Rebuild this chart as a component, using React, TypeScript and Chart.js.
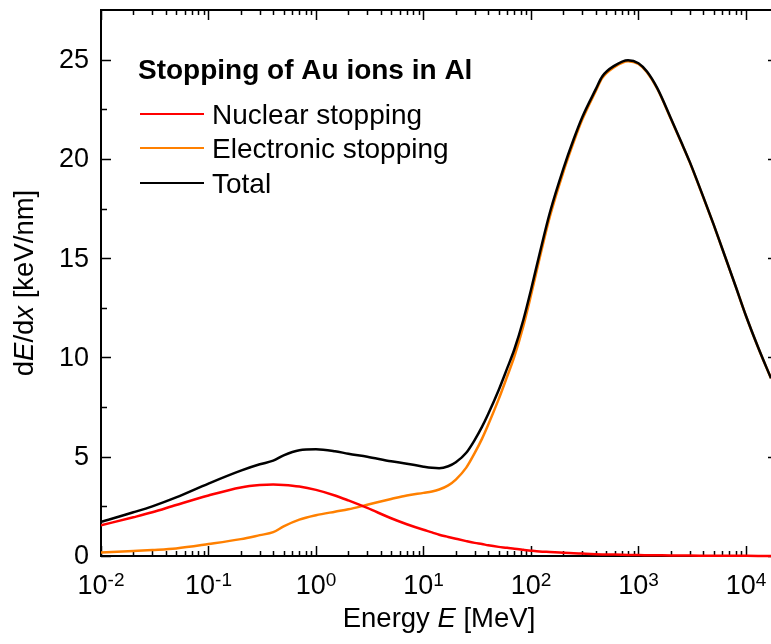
import { useEffect, useRef } from "react";
import { Chart, registerables } from "chart.js";

Chart.register(...registerables);

// ---- Data ----
const energies = [
  0.01, 0.02, 0.03, 0.05, 0.1, 0.2, 0.3, 0.4, 0.5, 0.7, 1, 1.5, 2, 3, 5, 7, 10, 12, 14, 17, 20,
  25, 30, 35, 40, 50, 60, 70, 85, 100, 120, 150, 200, 250, 300, 400, 460, 600, 800, 1000, 1200,
  1500, 2000, 2500, 3000, 4000, 5000, 6000, 8000, 10000, 13000, 17100,
];
const nuclearStopping = [
  1.55, 1.95, 2.2, 2.57, 3.05, 3.45, 3.57, 3.6, 3.58, 3.5, 3.33, 3.05, 2.8, 2.42, 1.9, 1.6,
  1.32, 1.19, 1.07, 0.96, 0.87, 0.75, 0.66, 0.6, 0.54, 0.46, 0.41, 0.36, 0.31, 0.27, 0.23, 0.2,
  0.16, 0.14, 0.12, 0.09, 0.08, 0.07, 0.055, 0.045, 0.04, 0.035, 0.028, 0.024, 0.02, 0.016,
  0.014, 0.012, 0.01, 0.008, 0.006, 0.005,
];
const electronicStopping = [
  0.17, 0.25, 0.3, 0.38, 0.6, 0.85, 1.05, 1.2, 1.49, 1.83, 2.05, 2.23, 2.35, 2.58, 2.87, 3.05,
  3.18, 3.25, 3.35, 3.56, 3.85, 4.45, 5.19, 5.9, 6.61, 7.89, 9.04, 10.04, 11.59, 13.13, 14.97,
  17.1, 19.34, 20.86, 21.98, 23.41, 24.07, 24.63, 24.92, 24.78, 24.36, 23.52, 22.02, 20.83,
  19.83, 18.08, 16.69, 15.49, 13.59, 12.09, 10.49, 8.95,
];
const totalStopping = [
  1.72, 2.2, 2.5, 2.95, 3.65, 4.3, 4.62, 4.8, 5.07, 5.33, 5.38, 5.28, 5.15, 5.0, 4.77, 4.65,
  4.5, 4.44, 4.42, 4.52, 4.72, 5.2, 5.85, 6.5, 7.15, 8.35, 9.45, 10.4, 11.9, 13.4, 15.2, 17.3,
  19.5, 21.0, 22.1, 23.5, 24.15, 24.7, 24.97, 24.82, 24.4, 23.55, 22.05, 20.85, 19.85, 18.1,
  16.7, 15.5, 13.6, 12.1, 10.5, 8.95,
];

const seriesLabels = ["Nuclear stopping", "Electronic stopping", "Total"];
const seriesColors = ["#ff0000", "#ff8000", "#000000"];
const legendTitle = "Stopping of Au ions in Al";

const xDecadeExponents = [-2, -1, 0, 1, 2, 3, 4];
const yMajorTicks = [0, 5, 10, 15, 20, 25];
const yMinorTicks = [2.5, 7.5, 12.5, 17.5, 22.5];

const X_MIN = 0.01;
const X_MAX = 17100;
const Y_MIN = 0;
const Y_MAX = 27.5;

const FONT = "'Liberation Sans', Arial, Helvetica, sans-serif";
const TICK_FONT_SIZE = 27;
const SUP_FONT_SIZE = 19;
const TITLE_FONT_SIZE = 27.5;
const LEGEND_FONT_SIZE = 28;

type Piece = { text: string; italic?: boolean };

function drawPieces(ctx: CanvasRenderingContext2D, pieces: Piece[], size: number, cx: number, baseline: number) {
  const widths = pieces.map((p) => {
    ctx.font = `${p.italic ? "italic " : ""}${size}px ${FONT}`;
    return ctx.measureText(p.text).width;
  });
  const total = widths.reduce((a, b) => a + b, 0);
  let x = cx - total / 2;
  ctx.textAlign = "left";
  ctx.textBaseline = "alphabetic";
  pieces.forEach((p, i) => {
    ctx.font = `${p.italic ? "italic " : ""}${size}px ${FONT}`;
    ctx.fillText(p.text, x, baseline);
    x += widths[i];
  });
}

const axesPlugin = {
  id: "customAxes",
  beforeDatasetsDraw(chart: any) {
    const { ctx, chartArea: a, scales } = chart;
    const xs = scales.x;
    const ys = scales.y;
    ctx.save();
    ctx.strokeStyle = "#000";
    ctx.lineWidth = 2;
    ctx.beginPath();
    ctx.moveTo(a.left, a.top);
    ctx.lineTo(a.right, a.top);
    ctx.moveTo(a.left, a.top - 1);
    ctx.lineTo(a.left, a.bottom + 1);
    ctx.moveTo(a.left, a.bottom);
    ctx.lineTo(a.right, a.bottom);
    ctx.stroke();

    ctx.lineWidth = 1.5;
    ctx.beginPath();
    const MAJ = 10;
    const MIN = 5;
    // x ticks (bottom and top, inward)
    for (const e of xDecadeExponents) {
      for (let m = 1; m <= 9; m++) {
        const v = m * Math.pow(10, e);
        if (v < X_MIN || v > X_MAX) continue;
        const px = Math.round(xs.getPixelForValue(v)) + 0.5;
        const len = m === 1 ? MAJ : MIN;
        ctx.moveTo(px, a.bottom);
        ctx.lineTo(px, a.bottom - len);
        ctx.moveTo(px, a.top);
        ctx.lineTo(px, a.top + len);
      }
    }
    // y ticks (left, inward); right axis lies just outside the canvas,
    // so only the tips of its major ticks show
    yMajorTicks.forEach((v) => {
      const py = Math.round(ys.getPixelForValue(v)) + 0.5;
      ctx.moveTo(a.left, py);
      ctx.lineTo(a.left + MAJ, py);
      ctx.moveTo(a.right, py);
      ctx.lineTo(a.right - 3, py);
    });
    yMinorTicks.forEach((v) => {
      const py = Math.round(ys.getPixelForValue(v)) + 0.5;
      ctx.moveTo(a.left, py);
      ctx.lineTo(a.left + MIN + 1, py);
    });
    ctx.stroke();
    ctx.restore();
  },
  afterDraw(chart: any) {
    const { ctx, chartArea: a, scales } = chart;
    const xs = scales.x;
    const ys = scales.y;
    ctx.save();
    ctx.fillStyle = "#000";

    // y tick labels
    ctx.font = `${TICK_FONT_SIZE}px ${FONT}`;
    ctx.textAlign = "right";
    ctx.textBaseline = "middle";
    yMajorTicks.forEach((v) => {
      ctx.fillText(String(v), a.left - 12, ys.getPixelForValue(v) + 1);
    });

    // x tick labels: 10^n
    for (const e of xDecadeExponents) {
      const px = xs.getPixelForValue(Math.pow(10, e));
      ctx.font = `${TICK_FONT_SIZE}px ${FONT}`;
      const wb = ctx.measureText("10").width;
      ctx.font = `${SUP_FONT_SIZE}px ${FONT}`;
      const expText = String(e);
      const we = ctx.measureText(expText).width;
      const start = px - (wb + we) / 2;
      ctx.textAlign = "left";
      ctx.textBaseline = "alphabetic";
      ctx.font = `${TICK_FONT_SIZE}px ${FONT}`;
      ctx.fillText("10", start, a.bottom + 38);
      ctx.font = `${SUP_FONT_SIZE}px ${FONT}`;
      ctx.fillText(expText, start + wb, a.bottom + 29.5);
    }

    // x axis title
    drawPieces(
      ctx,
      [{ text: "Energy " }, { text: "E", italic: true }, { text: " [MeV]" }],
      TITLE_FONT_SIZE,
      439,
      627
    );

    // y axis title (rotated)
    ctx.save();
    ctx.translate(33, (a.top + a.bottom) / 2);
    ctx.rotate(-Math.PI / 2);
    drawPieces(
      ctx,
      [
        { text: "d" },
        { text: "E", italic: true },
        { text: "/d" },
        { text: "x", italic: true },
        { text: " [keV/nm]" },
      ],
      TITLE_FONT_SIZE,
      0,
      0
    );
    ctx.restore();

    // legend
    ctx.textAlign = "left";
    ctx.textBaseline = "alphabetic";
    ctx.font = `bold ${LEGEND_FONT_SIZE}px ${FONT}`;
    ctx.fillText(legendTitle, 138, 79);
    const lineYs = [114, 148, 183];
    seriesLabels.forEach((label, i) => {
      ctx.strokeStyle = seriesColors[i];
      ctx.lineWidth = 2;
      ctx.beginPath();
      ctx.moveTo(140, lineYs[i]);
      ctx.lineTo(204, lineYs[i]);
      ctx.stroke();
      ctx.font = `${LEGEND_FONT_SIZE}px ${FONT}`;
      ctx.fillText(label, 212, lineYs[i] + 10);
    });
    ctx.restore();
  },
};

export default function App() {
  const canvasRef = useRef<HTMLCanvasElement | null>(null);

  useEffect(() => {
    const canvas = canvasRef.current;
    if (!canvas) return;
    const toPoints = (vals: number[]) => energies.map((e, i) => ({ x: e, y: vals[i] }));
    const chart = new Chart(canvas, {
      type: "line",
      data: {
        datasets: [
          {
            label: seriesLabels[0],
            data: toPoints(nuclearStopping),
            borderColor: seriesColors[0],
            borderWidth: 2.5,
            order: 1,
          },
          {
            label: seriesLabels[1],
            data: toPoints(electronicStopping),
            borderColor: seriesColors[1],
            borderWidth: 2.5,
            order: 2,
          },
          {
            label: seriesLabels[2],
            data: toPoints(totalStopping),
            borderColor: seriesColors[2],
            borderWidth: 2.5,
            order: 0,
          },
        ],
      },
      options: {
        responsive: false,
        animation: false,
        devicePixelRatio: 1,
        layout: { padding: { left: 101, right: 0, top: 10, bottom: 88 } },
        elements: {
          point: { radius: 0, hoverRadius: 0 },
          line: { cubicInterpolationMode: "monotone", fill: false },
        },
        datasets: { line: { clip: { left: 0, top: 0, right: 0, bottom: 4 } as any } },
        plugins: { legend: { display: false }, tooltip: { enabled: false } },
        scales: {
          x: { type: "logarithmic", min: X_MIN, max: X_MAX, display: false },
          y: { type: "linear", min: Y_MIN, max: Y_MAX, display: false },
        },
      },
      plugins: [axesPlugin],
    });
    return () => chart.destroy();
  }, []);

  return (
    <div style={{ position: "absolute", left: 0, top: 0, width: 771, height: 644, background: "#fff" }}>
      <canvas ref={canvasRef} width={771} height={644} style={{ display: "block" }} />
    </div>
  );
}
